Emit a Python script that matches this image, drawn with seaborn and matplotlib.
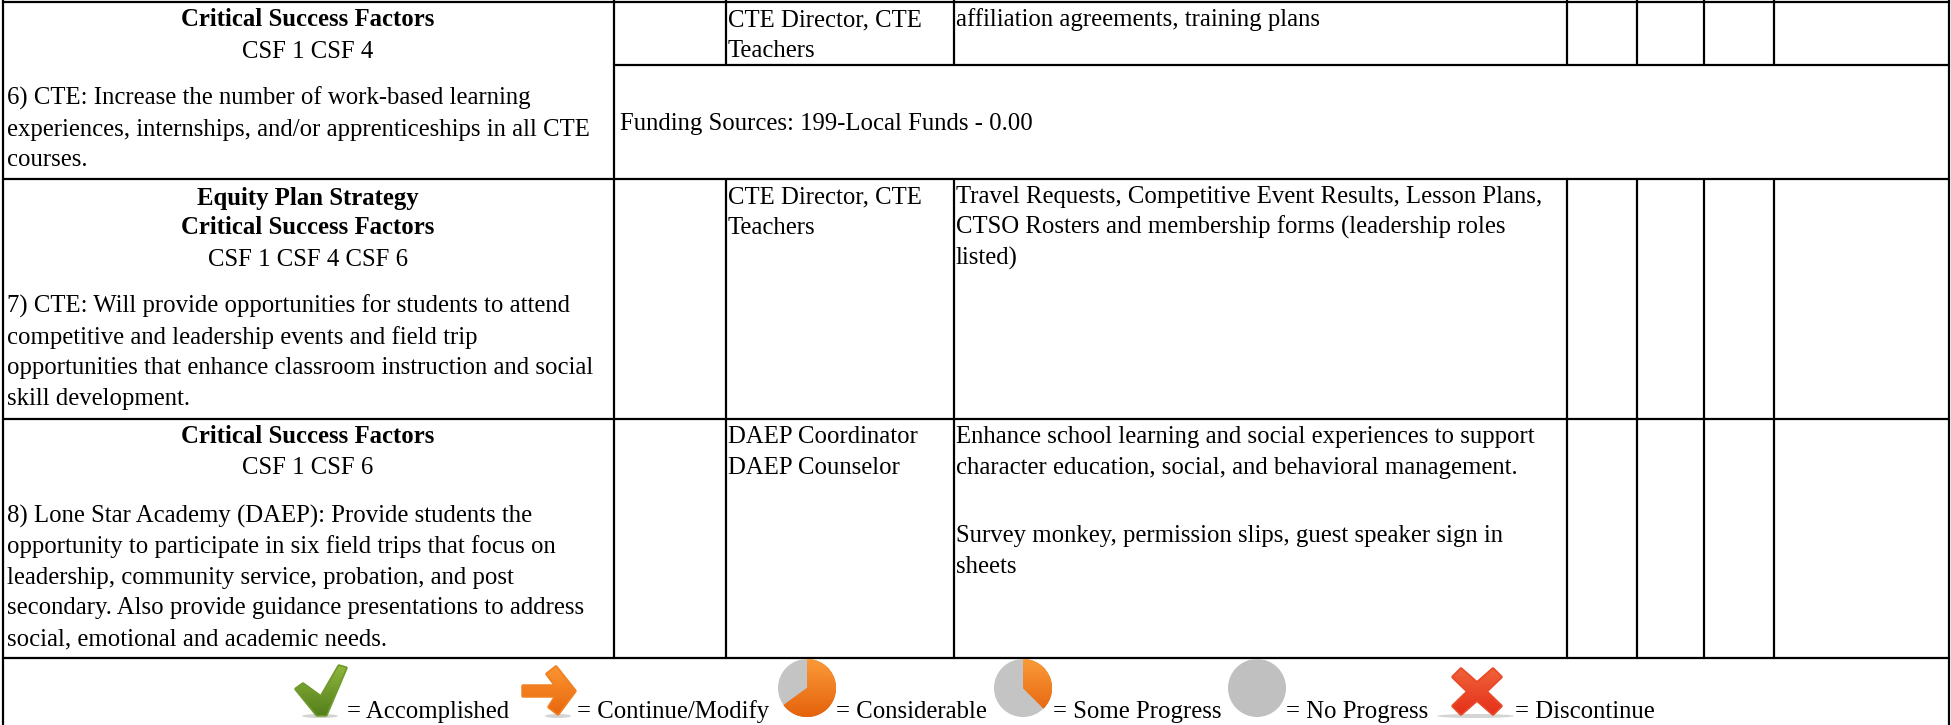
import numpy as np
import pandas as pd
import matplotlib.pyplot as plt
import seaborn as sns
from matplotlib.colors import LinearSegmentedColormap
from matplotlib.patches import Circle, Ellipse, Polygon, Wedge

# table text, read from the page
col1_bold = ["Critical Success Factors", "Equity Plan Strategy", "Critical Success Factors", "Critical Success Factors"]
col1_csf = ["CSF 1 CSF 4", "CSF 1 CSF 4 CSF 6", "CSF 1 CSF 6"]
col1_body = [
    "6) CTE: Increase the number of work-based learning",
    "experiences, internships, and/or apprenticeships in all CTE",
    "courses.",
    "7) CTE: Will provide opportunities for students to attend",
    "competitive and leadership events and field trip",
    "opportunities that enhance classroom instruction and social",
    "skill development.",
    "8) Lone Star Academy (DAEP): Provide students the",
    "opportunity to participate in six field trips that focus on",
    "leadership, community service, probation, and post",
    "secondary. Also provide guidance presentations to address",
    "social, emotional and academic needs.",
]
col3_text = ["CTE Director, CTE", "Teachers", "CTE Director, CTE", "Teachers", "DAEP Coordinator", "DAEP Counselor"]
col4_text = [
    "affiliation agreements, training plans",
    "Travel Requests, Competitive Event Results, Lesson Plans,",
    "CTSO Rosters and membership forms (leadership roles",
    "listed)",
    "Enhance school learning and social experiences to support",
    "character education, social, and behavioral management.",
    "Survey monkey, permission slips, guest speaker sign in",
    "sheets",
]
funding = "Funding Sources: 199-Local Funds - 0.00"
legend_labels = ["= Accomplished", "= Continue/Modify", "= Considerable", "= Some Progress", "= No Progress", "= Discontinue"]
progress_share = [0.65, 0.375]

# layout in page pixels
W, H = 1951, 725
left_x, col_x, right_x = 3, [614, 726, 954, 1567, 1637, 1704, 1774], 1949
row_y = [2, 179, 419, 658]
FS = 17.85

sns.set_theme(style="white")
plt.rcParams["font.family"] = ["Liberation Serif", "DejaVu Serif"]

fig = plt.figure(figsize=(W / 100, H / 100), dpi=100)
ax = fig.add_axes([0, 0, 1, 1])


def rules():
    segs = [([left_x, right_x], [y, y]) for y in row_y]
    segs.append(([col_x[0], right_x], [65, 65]))
    segs.append(([left_x, left_x], [0, H]))
    segs.append(([right_x, right_x], [0, H]))
    segs.append(([col_x[0], col_x[0]], [0, row_y[3]]))
    for x in col_x[1:]:
        segs.append(([x, x], [0, 65]))
        segs.append(([x, x], [179, row_y[3]]))
    rows = []
    for n, (xs, ys) in enumerate(segs):
        rows.extend({"rule": n, "x": x, "y": y} for x, y in zip(xs, ys))
    return pd.DataFrame(rows)


sns.lineplot(data=rules(), x="x", y="y", units="rule", estimator=None, sort=False,
             color="black", lw=1.6, ax=ax, legend=False)
ax.set_xlim(0, W)
ax.set_ylim(H, 0)
ax.axis("off")


def txt(x, y, s, **kw):
    ax.text(x, y, s, fontsize=FS, color="black", va="baseline", **kw)


center = 308
for y, s in zip([26, 205, 234, 443], col1_bold):
    txt(center, y, s, ha="center", fontweight="bold")
for y, s in zip([58, 266, 474], col1_csf):
    txt(center, y, s, ha="center")
for y, s in zip([105, 136, 166, 313, 344, 374, 405, 523, 553, 584, 614, 645], col1_body):
    txt(7, y, s)
for y, s in zip([26, 57, 203, 234, 443, 474], col3_text):
    txt(728, y, s)
for y, s in zip([26, 203, 234, 265, 443, 474, 542, 573], col4_text):
    txt(956, y, s)
txt(620, 130, funding)

for x, s in zip([347, 577, 836, 1053, 1286, 1515], legend_labels):
    txt(x, 718, s)


def gradient(clip, box, top, bottom):
    cmap = LinearSegmentedColormap.from_list("g", [top, bottom])
    im = ax.imshow(np.linspace(0, 1, 64)[:, None], cmap=cmap, aspect="auto",
                   extent=[box[0], box[1], box[3], box[2]], zorder=3)
    im.set_clip_path(clip)


def poly_icon(verts, top, bottom, shadow):
    sx0, sx1 = shadow
    ax.add_patch(Ellipse(((sx0 + sx1) / 2, 716), sx1 - sx0, 4, color="#d4d4d4", lw=0, zorder=2))
    xs, ys = zip(*verts)
    mid = sns.blend_palette([top, bottom], 3)[1]
    patch = Polygon(verts, closed=True, fc=mid, ec=mid, lw=2.5, joinstyle="round", zorder=3)
    ax.add_patch(patch)
    gradient(patch, (min(xs), max(xs), min(ys), max(ys)), top, bottom)


poly_icon([(296, 689), (303, 684), (321, 697), (339, 666), (346, 668), (326, 715), (317, 715)],
          "#8db63c", "#557f1c", (302, 338))
poly_icon([(523, 686), (556, 686), (547, 674), (556, 667), (575, 691), (558, 714), (549, 707), (556, 696), (523, 696)],
          "#fb9430", "#e8680f", (545, 571))
poly_icon([(1453, 677), (1461, 669), (1477, 683), (1493, 669), (1501, 677), (1486, 691.5),
           (1501, 706), (1493, 714), (1477, 700), (1461, 714), (1453, 706), (1468, 691.5)],
          "#ef6238", "#e5301b", (1437, 1514))


def pie_icon(cx, share):
    ax.add_patch(Circle((cx, 688), 29, color="#c4c4c4", lw=0, zorder=3))
    # y axis points down, so angles run clockwise from the top
    patch = Wedge((cx, 688), 29, -90, -90 + 360 * share, fc="#f07a14", lw=0, zorder=3)
    ax.add_patch(patch)
    gradient(patch, (cx - 29, cx + 29, 659, 717), "#fa9a38", "#e5620c")


pie_icon(807, progress_share[0])
pie_icon(1023, progress_share[1])
ax.add_patch(Circle((1257, 688), 29, color="#c0c0c0", lw=0, zorder=3))

ax.set_xlim(0, W)
ax.set_ylim(H, 0)
fig.savefig("out.png", dpi=100, facecolor="white")
